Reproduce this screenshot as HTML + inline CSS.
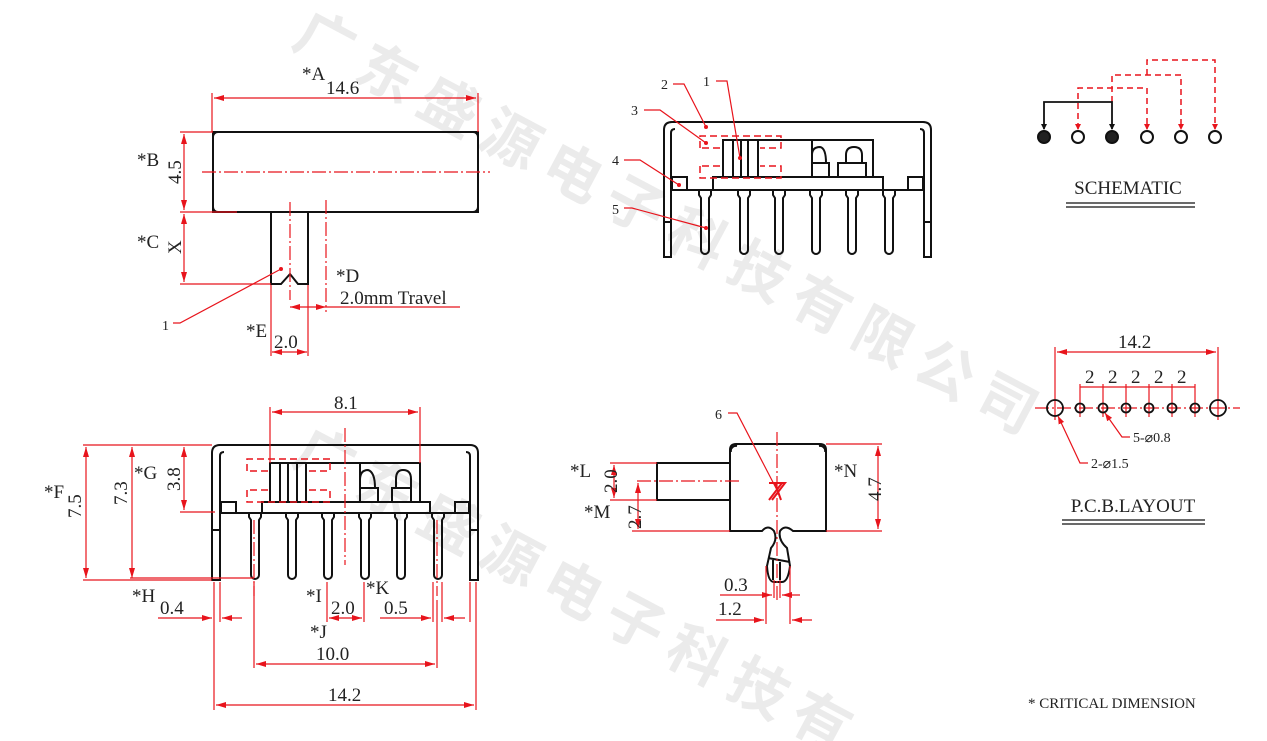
<!DOCTYPE html>
<html><head><meta charset="utf-8"><style>
html,body{margin:0;padding:0;background:#fff;width:1267px;height:741px;overflow:hidden}
svg{display:block}
text{font-family:"Liberation Serif",serif;fill:#222}
.wm text{font-family:"Noto Sans CJK SC",sans-serif;fill:#ebebeb;font-size:58px;font-weight:bold}
.k{stroke:#111;stroke-width:2;fill:none}
.r{stroke:#e8141c;stroke-width:1.2;fill:none}
.rd{stroke:#e8141c;stroke-width:1.2;fill:none;stroke-dasharray:14,3,2,3}
.rb{stroke:#e8141c;stroke-width:1.5;fill:none;stroke-dasharray:7,4}
.t{font-size:19px}
</style></head><body>
<svg width="1267" height="741" viewBox="0 0 1267 741" xmlns="http://www.w3.org/2000/svg">
<defs>
<marker id="a" markerWidth="10" markerHeight="6" refX="10" refY="3" orient="auto" markerUnits="userSpaceOnUse"><path d="M0,0 L10,3 L0,6z" fill="#e8141c"/></marker>
<marker id="s" markerWidth="10" markerHeight="6" refX="0" refY="3" orient="auto" markerUnits="userSpaceOnUse"><path d="M10,0 L0,3 L10,6z" fill="#e8141c"/></marker>
<marker id="ra" markerWidth="8" markerHeight="6" refX="8" refY="3" orient="auto" markerUnits="userSpaceOnUse"><path d="M0,0 L8,3 L0,6z" fill="#e8141c"/></marker>
</defs>
<g class="wm">
<text transform="translate(290,45) rotate(28)">广</text>
<text transform="translate(352,78) rotate(28)">东</text>
<text transform="translate(414,111) rotate(28)">盛</text>
<text transform="translate(476,144) rotate(28)">源</text>
<text transform="translate(538,177) rotate(28)">电</text>
<text transform="translate(600,210) rotate(28)">子</text>
<text transform="translate(662,243) rotate(28)">科</text>
<text transform="translate(724,276) rotate(28)">技</text>
<text transform="translate(786,309) rotate(28)">有</text>
<text transform="translate(848,342) rotate(28)">限</text>
<text transform="translate(910,375) rotate(28)">公</text>
<text transform="translate(972,408) rotate(28)">司</text>
<text transform="translate(290,462) rotate(28)">广</text>
<text transform="translate(352,495) rotate(28)">东</text>
<text transform="translate(414,528) rotate(28)">盛</text>
<text transform="translate(476,561) rotate(28)">源</text>
<text transform="translate(538,594) rotate(28)">电</text>
<text transform="translate(600,627) rotate(28)">子</text>
<text transform="translate(662,660) rotate(28)">科</text>
<text transform="translate(724,693) rotate(28)">技</text>
<text transform="translate(786,726) rotate(28)">有</text>
</g>

<!-- VIEW 1 -->
<rect x="213" y="132" width="265" height="80" class="k"/>
<path class="k" stroke-width="1.2" d="M213,137 a5,5 0 0 1 5,-5 M473,132 a5,5 0 0 1 5,5 M213,207 a5,5 0 0 0 5,5 M478,207 a5,5 0 0 1 -5,5"/>
<line x1="202" y1="172" x2="490" y2="172" class="rd"/>
<path class="k" d="M271,212 V284 H281 L290,274 L298,284 H308 V212"/>
<line x1="290" y1="202" x2="290" y2="300" class="rd"/>
<line x1="326" y1="200" x2="326" y2="312" class="rd"/>
<line x1="212" y1="93" x2="212" y2="132" class="r"/>
<line x1="478" y1="93" x2="478" y2="132" class="r"/>
<line x1="214" y1="98" x2="476" y2="98" class="r" marker-start="url(#s)" marker-end="url(#a)"/>
<text x="302" y="80" class="t">*A</text><text x="326" y="94" class="t">14.6</text>
<line x1="180" y1="132" x2="213" y2="132" class="r"/>
<line x1="180" y1="212" x2="237" y2="212" class="r"/>
<line x1="184" y1="134" x2="184" y2="210" class="r" marker-start="url(#s)" marker-end="url(#a)"/>
<text x="137" y="166" class="t">*B</text>
<text transform="translate(181,184) rotate(-90)" class="t">4.5</text>
<line x1="180" y1="284" x2="271" y2="284" class="r"/>
<line x1="184" y1="214" x2="184" y2="282" class="r" marker-start="url(#s)" marker-end="url(#a)"/>
<text x="137" y="248" class="t">*C</text>
<text transform="translate(181,254) rotate(-90)" class="t">X</text>
<circle cx="281" cy="269" r="2" fill="#e8141c"/>
<polyline points="281,269 180,323 173,323" class="r"/>
<text x="162" y="330" font-size="14">1</text>
<text x="336" y="282" class="t">*D</text>
<text x="340" y="304" class="t">2.0mm Travel</text>
<line x1="326" y1="307" x2="460" y2="307" class="r"/>
<line x1="290" y1="307" x2="326" y2="307" class="r" marker-start="url(#s)" marker-end="url(#a)"/>
<line x1="271" y1="285" x2="271" y2="356" class="r"/>
<line x1="308" y1="285" x2="308" y2="356" class="r"/>
<line x1="272" y1="352" x2="307" y2="352" class="r" marker-start="url(#s)" marker-end="url(#a)"/>
<text x="246" y="337" class="t">*E</text><text x="274" y="348" class="t">2.0</text>

<!-- VIEW 2 -->
<path class="k" d="M664,257 V130 Q664,122 672,122 H923 Q931,122 931,130 V257 H924 V190 H671 V257 Z"/>
<path class="k" stroke-width="1.2" d="M671,190 V133 Q671,129 675,129 M924,190 V133 Q924,129 920,129 M664,222 H671 M924,222 H931"/>
<path class="k" d="M713,190 V177 H883 V190"/>
<rect x="672" y="177" width="15" height="13" class="k" stroke-width="1.5"/>
<rect x="908" y="177" width="15" height="13" class="k" stroke-width="1.5"/>
<g class="k" stroke-width="1.6">
<path d="M701,190 v5 l2,3 v52 a4,4 0 0 0 8,0 v-52 l2,-3 v-5" transform="translate(-2,0)"/>
<path d="M738,190 v5 l2,3 v52 a4,4 0 0 0 8,0 v-52 l2,-3 v-5"/>
<path d="M773,190 v5 l2,3 v52 a4,4 0 0 0 8,0 v-52 l2,-3 v-5"/>
<path d="M810,190 v5 l2,3 v52 a4,4 0 0 0 8,0 v-52 l2,-3 v-5"/>
<path d="M846,190 v5 l2,3 v52 a4,4 0 0 0 8,0 v-52 l2,-3 v-5"/>
<path d="M883,190 v5 l2,3 v52 a4,4 0 0 0 8,0 v-52 l2,-3 v-5"/>
</g>
<rect x="723" y="140" width="150" height="37" class="k"/>
<path class="k" stroke-width="1.5" d="M733,140 V177 M741,140 V177 M748,140 V177 M758,140 V177 M812,140 V177"/>
<path class="k" stroke-width="1.5" d="M812,163 H829 V177 M812,155 Q812,147 820,147 Q826,148 826,163 M838,177 V163 H866 V177 M846,163 V155 Q846,147 854,147 Q862,147 862,155 V163"/>
<path class="rb" d="M700,148 V136 H781 V148 H760 M720,148 H700 M700,166 V178 H781 V166 H760 M720,166 H700"/>
<g fill="#e8141c"><circle cx="706" cy="127" r="2"/><circle cx="740" cy="158" r="2"/><circle cx="706" cy="143" r="2"/><circle cx="679" cy="185" r="2"/><circle cx="706" cy="228" r="2"/></g>
<polyline class="r" points="673,84 684,84 706,127"/><text x="661" y="89" font-size="14">2</text>
<polyline class="r" points="716,81 727,81 740,158"/><text x="703" y="86" font-size="14">1</text>
<polyline class="r" points="644,110 660,110 706,143"/><text x="631" y="115" font-size="14">3</text>
<polyline class="r" points="624,160 640,160 679,185"/><text x="612" y="165" font-size="14">4</text>
<polyline class="r" points="624,208 632,208 706,228"/><text x="612" y="214" font-size="14">5</text>

<!-- VIEW 3 -->
<path class="k" d="M212,580 V453 Q212,445 220,445 H470 Q478,445 478,453 V580 H470 V513 H220 V580 Z"/>
<path class="k" stroke-width="1.2" d="M220,513 V456 Q220,452 224,452 M470,513 V456 Q470,452 466,452 M212,530 H220 M470,530 H478"/>
<path class="k" d="M262,513 V502 H430 V513"/>
<rect x="221" y="502" width="15" height="11" class="k" stroke-width="1.5"/>
<rect x="455" y="502" width="14" height="11" class="k" stroke-width="1.5"/>
<g class="k" stroke-width="1.6">
<path d="M249,513 v4 l2,3 v55 a4,4 0 0 0 8,0 v-55 l2,-3 v-4"/>
<path d="M286,513 v4 l2,3 v55 a4,4 0 0 0 8,0 v-55 l2,-3 v-4"/>
<path d="M322,513 v4 l2,3 v55 a4,4 0 0 0 8,0 v-55 l2,-3 v-4"/>
<path d="M359,513 v4 l2,3 v55 a4,4 0 0 0 8,0 v-55 l2,-3 v-4"/>
<path d="M395,513 v4 l2,3 v55 a4,4 0 0 0 8,0 v-55 l2,-3 v-4"/>
<path d="M432,513 v4 l2,3 v55 a4,4 0 0 0 8,0 v-55 l2,-3 v-4"/>
</g>
<rect x="270" y="463" width="150" height="39" class="k"/>
<path class="k" stroke-width="1.5" d="M280,463 V502 M288,463 V502 M297,463 V502 M306,463 V502 M360,463 V502"/>
<path class="k" stroke-width="1.5" d="M360,488 H378 V502 M360,480 Q360,470 368,470 Q375,472 375,488 M392,502 V488 H411 V502 M396,488 V479 Q396,470 403,470 Q411,470 411,479 V488"/>
<path class="rb" d="M247,471 V459 H330 V471 H308 M268,471 H247 M247,490 V502 H330 V490 H308 M268,490 H247"/>
<line x1="345" y1="428" x2="345" y2="565" class="rd"/>
<g class="rd"><line x1="254" y1="520" x2="254" y2="596"/><line x1="437" y1="520" x2="437" y2="596"/></g>
<line x1="270" y1="407" x2="270" y2="463" class="r"/>
<line x1="420" y1="407" x2="420" y2="463" class="r"/>
<line x1="272" y1="412" x2="418" y2="412" class="r" marker-start="url(#s)" marker-end="url(#a)"/>
<text x="334" y="409" class="t">8.1</text>
<line x1="83" y1="445" x2="212" y2="445" class="r"/>
<line x1="83" y1="580" x2="212" y2="580" class="r"/>
<line x1="130" y1="578" x2="254" y2="578" class="r"/>
<line x1="86" y1="447" x2="86" y2="578" class="r" marker-start="url(#s)" marker-end="url(#a)"/>
<line x1="132" y1="447" x2="132" y2="578" class="r" marker-start="url(#s)" marker-end="url(#a)"/>
<line x1="180" y1="512" x2="215" y2="512" class="r"/>
<line x1="184" y1="447" x2="184" y2="510" class="r" marker-start="url(#s)" marker-end="url(#a)"/>
<text x="44" y="498" class="t">*F</text>
<text transform="translate(81,518) rotate(-90)" class="t">7.5</text>
<text transform="translate(127,505) rotate(-90)" class="t">7.3</text>
<text x="134" y="479" class="t">*G</text>
<text transform="translate(180,491) rotate(-90)" class="t">3.8</text>
<g class="r"><line x1="214" y1="582" x2="214" y2="710"/><line x1="220" y1="582" x2="220" y2="622"/><line x1="476" y1="582" x2="476" y2="710"/><line x1="470" y1="582" x2="470" y2="622"/>
<line x1="327" y1="582" x2="327" y2="622"/><line x1="364" y1="582" x2="364" y2="622"/><line x1="433" y1="582" x2="433" y2="622"/><line x1="442" y1="582" x2="442" y2="622"/><line x1="254" y1="582" x2="254" y2="668"/><line x1="437" y1="600" x2="437" y2="668"/></g>
<line x1="158" y1="618" x2="212" y2="618" class="r" marker-end="url(#a)"/>
<line x1="242" y1="618" x2="222" y2="618" class="r" marker-end="url(#a)"/>
<text x="132" y="602" class="t">*H</text><text x="160" y="614" class="t">0.4</text>
<line x1="329" y1="618" x2="362" y2="618" class="r" marker-start="url(#s)" marker-end="url(#a)"/>
<text x="306" y="602" class="t">*I</text><text x="331" y="614" class="t">2.0</text>
<line x1="380" y1="618" x2="431" y2="618" class="r" marker-end="url(#a)"/>
<line x1="465" y1="618" x2="444" y2="618" class="r" marker-end="url(#a)"/>
<text x="366" y="594" class="t">*K</text><text x="384" y="614" class="t">0.5</text>
<line x1="256" y1="664" x2="435" y2="664" class="r" marker-start="url(#s)" marker-end="url(#a)"/>
<text x="310" y="638" class="t">*J</text><text x="316" y="660" class="t">10.0</text>
<line x1="216" y1="705" x2="474" y2="705" class="r" marker-start="url(#s)" marker-end="url(#a)"/>
<text x="328" y="701" class="t">14.2</text>

<!-- VIEW 4 -->
<path class="k" d="M730,531 V450 Q730,444 736,444 H820 Q826,444 826,450 V531 H793 Q785,524 780,531 Q778,540 787,548 L790,566 Q788,582 782,582 H774 Q768,582 767,566 L771,548 Q778,540 774,531 Q768,524 762,531 Z"/>
<path class="k" stroke-width="1.2" d="M731,452 a5,5 0 0 1 6,-6 M819,446 a5,5 0 0 1 6,6 M768,558 L790,562 M773,560 V580 M780,562 V580"/>
<rect x="657" y="463" width="73" height="37" class="k"/>
<line x1="777" y1="432" x2="777" y2="600" class="rd"/>
<line x1="637" y1="481" x2="742" y2="481" class="rd"/>
<path d="M769,483 H785 L772,500 M782,483 L769,500 M775,483 L781,500" stroke="#e8141c" stroke-width="2" fill="none"/>
<polyline class="r" points="728,413 737,413 777,490"/><text x="715" y="419" font-size="14">6</text>
<g class="r"><line x1="610" y1="463" x2="657" y2="463"/><line x1="610" y1="500" x2="657" y2="500"/><line x1="632" y1="531" x2="730" y2="531"/><line x1="826" y1="444" x2="882" y2="444"/><line x1="826" y1="531" x2="882" y2="531"/>
<line x1="766" y1="566" x2="766" y2="624"/><line x1="790" y1="566" x2="790" y2="624"/><line x1="774" y1="580" x2="774" y2="598"/><line x1="780" y1="580" x2="780" y2="598"/></g>
<line x1="614" y1="465" x2="614" y2="498" class="r" marker-start="url(#s)" marker-end="url(#a)"/>
<line x1="638" y1="483" x2="638" y2="529" class="r" marker-start="url(#s)" marker-end="url(#a)"/>
<line x1="878" y1="446" x2="878" y2="529" class="r" marker-start="url(#s)" marker-end="url(#a)"/>
<text x="570" y="477" class="t">*L</text><text transform="translate(617,493) rotate(-90)" class="t">2.0</text>
<text x="584" y="518" class="t">*M</text><text transform="translate(641,529) rotate(-90)" class="t">2.7</text>
<text x="834" y="477" class="t">*N</text><text transform="translate(881,501) rotate(-90)" class="t">4.7</text>
<line x1="720" y1="595" x2="772" y2="595" class="r" marker-end="url(#a)"/>
<line x1="800" y1="595" x2="782" y2="595" class="r" marker-end="url(#a)"/>
<text x="724" y="591" class="t">0.3</text>
<line x1="716" y1="620" x2="764" y2="620" class="r" marker-end="url(#a)"/>
<line x1="812" y1="620" x2="792" y2="620" class="r" marker-end="url(#a)"/>
<text x="718" y="615" class="t">1.2</text>

<!-- SCHEMATIC -->
<path d="M1112,102 V75 H1181 V129 M1078,129 V88 H1147 V129 M1147,75 V60 H1215 V129" stroke="#e8141c" stroke-width="1.5" fill="none" stroke-dasharray="6,4"/>
<g fill="#e8141c"><path d="M1075,124 L1081,124 L1078,130z"/><path d="M1144,124 L1150,124 L1147,130z"/><path d="M1178,124 L1184,124 L1181,130z"/><path d="M1212,124 L1218,124 L1215,130z"/></g>
<path d="M1044,129 V102 H1112 V129" stroke="#111" stroke-width="1.8" fill="none"/>
<g fill="#111"><path d="M1041,124 L1047,124 L1044,130z"/><path d="M1109,124 L1115,124 L1112,130z"/></g>
<g stroke="#111" stroke-width="2" fill="#fff">
<circle cx="1044" cy="137" r="6" fill="#222"/><circle cx="1078" cy="137" r="6"/><circle cx="1112" cy="137" r="6" fill="#222"/><circle cx="1147" cy="137" r="6"/><circle cx="1181" cy="137" r="6"/><circle cx="1215" cy="137" r="6"/></g>
<text x="1128" y="194" class="t" text-anchor="middle">SCHEMATIC</text>
<path d="M1066,203 H1195 M1066,207 H1195" stroke="#111" stroke-width="1.2"/>

<!-- PCB -->
<line x1="1035" y1="408" x2="1240" y2="408" class="rd"/>
<g class="r"><line x1="1055" y1="347" x2="1055" y2="420"/><line x1="1218" y1="347" x2="1218" y2="420"/>
<line x1="1080" y1="384" x2="1080" y2="417"/><line x1="1103" y1="384" x2="1103" y2="417"/><line x1="1126" y1="384" x2="1126" y2="417"/><line x1="1149" y1="384" x2="1149" y2="417"/><line x1="1172" y1="384" x2="1172" y2="417"/><line x1="1195" y1="384" x2="1195" y2="417"/>
<line x1="1080" y1="387" x2="1195" y2="387"/></g>
<line x1="1057" y1="352" x2="1216" y2="352" class="r" marker-start="url(#s)" marker-end="url(#a)"/>
<text x="1118" y="348" class="t">14.2</text>
<g class="t"><text x="1085" y="383">2</text><text x="1108" y="383">2</text><text x="1131" y="383">2</text><text x="1154" y="383">2</text><text x="1177" y="383">2</text></g>
<g stroke="#111" stroke-width="1.8" fill="none">
<circle cx="1055" cy="408" r="8"/><circle cx="1218" cy="408" r="8"/>
<circle cx="1080" cy="408" r="4.5"/><circle cx="1103" cy="408" r="4.5"/><circle cx="1126" cy="408" r="4.5"/><circle cx="1149" cy="408" r="4.5"/><circle cx="1172" cy="408" r="4.5"/><circle cx="1195" cy="408" r="4.5"/></g>
<polyline class="r" points="1130,437 1122,437 1105,413" marker-end="url(#ra)"/>
<text x="1133" y="442" font-size="14">5-⌀0.8</text>
<polyline class="r" points="1088,463 1080,463 1058,416" marker-end="url(#ra)"/>
<text x="1091" y="468" font-size="14">2-⌀1.5</text>
<text x="1133" y="512" class="t" text-anchor="middle">P.C.B.LAYOUT</text>
<path d="M1062,520 H1205 M1062,524 H1205" stroke="#111" stroke-width="1.2"/>

<text x="1028" y="708" font-size="15">* CRITICAL  DIMENSION</text>
</svg>
</body></html>
